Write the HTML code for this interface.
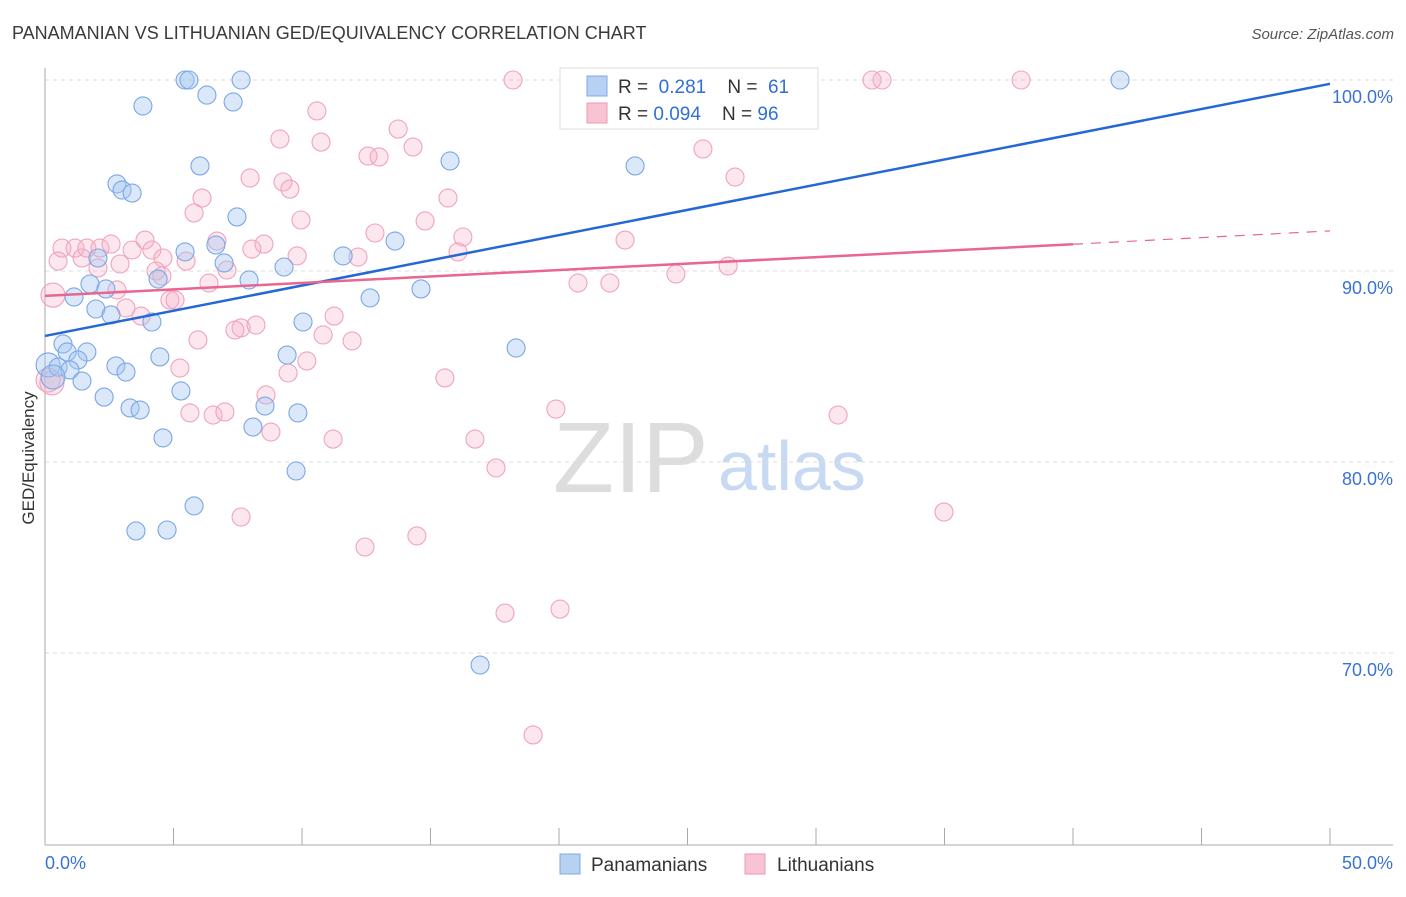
<!DOCTYPE html>
<html><head><meta charset="utf-8"><style>
body{margin:0;background:#fff;font-family:"Liberation Sans",sans-serif}
svg text{font-family:"Liberation Sans",sans-serif}
</style></head><body>
<svg id="c" width="1406" height="892" viewBox="0 0 1406 892" xmlns="http://www.w3.org/2000/svg">
<text x="12" y="39" font-size="18" fill="#3a3a3a">PANAMANIAN VS LITHUANIAN GED/EQUIVALENCY CORRELATION CHART</text>
<text x="1394" y="39" font-size="15" fill="#555" text-anchor="end" font-style="italic">Source: ZipAtlas.com</text>
<text x="553" y="492" font-size="100" fill="#ddd" font-family="Liberation Serif">ZIP</text>
<text x="718" y="490" font-size="70" fill="#c8daf3">atlas</text>
<g id="grid"></g>
<g id="pts"></g>
<g id="lines"></g>
<text transform="translate(34,458) rotate(-90)" font-size="17" fill="#333" text-anchor="middle">GED/Equivalency</text>
<g>
<rect x="560" y="68" width="258" height="61" fill="#fff" stroke="#ddd"/>
<rect x="587" y="76" width="20" height="20" fill="#b8d1f3" stroke="#7ea8e4"/>
<rect x="587" y="103" width="20" height="20" fill="#f8c3d3" stroke="#ee9ab5"/>
<text x="618" y="93" font-size="19" fill="#333" xml:space="preserve">R =  <tspan fill="#2f6fd6">0.281</tspan>    N =  <tspan fill="#2f6fd6">61</tspan></text>
<text x="618" y="120" font-size="19" fill="#333" xml:space="preserve">R = <tspan fill="#2f6fd6">0.094</tspan>    N = <tspan fill="#2f6fd6">96</tspan></text>
</g>
<g>
<rect x="560" y="854" width="20" height="20" fill="#b8d1f3" stroke="#7ea8e4"/>
<text x="591" y="871" font-size="19" fill="#333">Panamanians</text>
<rect x="745" y="854" width="20" height="20" fill="#f8c3d3" stroke="#ee9ab5"/>
<text x="777" y="871" font-size="19" fill="#333">Lithuanians</text>
</g>
</svg>
<script>
const yTicks=[100,90,80,70];
const yTickLabels=["100.0%","90.0%","80.0%","70.0%"];
const xLabels=["0.0%","50.0%"];
const blueX=[5.45,5.60,7.63,41.83,6.30,7.32,3.81,6.03,15.76,22.96,2.80,3.00,3.39,7.47,5.45,6.65,13.62,11.60,2.06,6.97,9.30,4.40,7.94,1.75,2.37,1.13,12.65,14.63,1.98,2.57,4.16,10.04,0.70,1.63,0.86,1.28,2.76,4.47,9.42,0.12,0.51,0.97,3.15,0.31,1.44,5.29,2.30,3.31,3.70,8.56,9.84,18.33,4.59,8.09,9.77,5.80,3.54,4.75,16.93];
const blueY=[100,100,100,100,99.21,98.85,98.64,95.50,95.76,95.50,94.56,94.24,94.08,92.83,91.00,91.36,91.57,90.79,90.68,90.42,90.21,89.58,89.53,89.32,89.06,88.64,88.59,89.06,88.01,87.70,87.33,87.33,86.18,85.76,85.76,85.34,85.03,85.50,85.60,85.08,84.97,84.82,84.71,84.45,84.24,83.72,83.40,82.83,82.72,82.93,82.57,85.97,81.26,81.83,79.53,77.70,76.39,76.44,69.37];
const pinkX=[18.21,23.07,32.18,32.57,37.98,23.66,10.58,9.14,10.74,13.74,14.32,12.57,13.00,25.60,7.98,9.26,9.53,26.85,6.11,15.68,5.80,9.96,14.79,12.84,16.26,22.57,6.69,8.52,3.89,0.66,1.17,1.63,2.14,2.57,3.39,4.16,0.51,1.44,2.06,2.92,4.59,5.49,9.81,12.18,16.07,8.05,7.08,4.32,4.55,6.38,20.74,21.98,24.55,26.58,0.31,2.80,4.86,5.06,3.15,3.74,11.25,7.63,7.39,8.21,5.95,10.82,11.95,10.19,9.46,5.25,15.56,8.60,5.64,6.54,7.00,8.79,11.21,16.73,19.88,30.86,17.55,7.63,34.98,12.45,14.47,17.90,20.04,18.99,0.12,0.27];
const pinkY=[100,100,100,100,100,100,98.38,96.91,96.75,97.43,96.49,96.02,95.97,96.39,94.87,94.66,94.29,94.92,93.82,93.82,93.04,92.67,92.62,91.99,91.78,91.62,91.57,91.41,91.62,91.20,91.20,91.20,91.20,91.41,91.10,91.10,90.52,90.68,90.16,90.37,90.68,90.52,90.79,90.73,91.00,91.15,90.05,90.00,89.74,89.37,89.37,89.37,89.84,90.26,88.74,89.01,88.48,88.48,88.06,87.64,87.64,87.02,86.91,87.17,86.39,86.65,86.34,85.29,84.66,84.92,84.40,83.51,82.57,82.46,82.62,81.57,81.20,81.20,82.77,82.46,79.69,77.12,77.38,75.55,76.13,72.09,72.30,65.71,84.29,84.14];
const blueTrend=[[0,86.6],[50,99.8]];
const pinkTrend=[[0,88.7],[40,91.4],[50,92.1]];
const NS="http://www.w3.org/2000/svg";
const X=v=>45+v*25.7, Y=v=>80+(100-v)*19.1;
function mk(t,a,p){const e=document.createElementNS(NS,t);for(const k in a)e.setAttribute(k,a[k]);p.appendChild(e);return e;}
const g=document.getElementById('grid');
yTicks.forEach((t,i)=>{
 const l=mk('line',{x1:45,x2:1393,y1:Y(t),y2:Y(t),stroke:'#ddd','stroke-dasharray':'4,4'},g);
 
 
 const tx=mk('text',{x:1393,y:Y(t)+23,'font-size':18,fill:'#3a72d4','text-anchor':'end'},g);
 tx.textContent=yTickLabels[i];
 
 
});
const ax=mk('line',{x1:45,x2:45,y1:68,y2:845,stroke:'#aaa'},g);


const bx=mk('line',{x1:45,x2:1393,y1:845,y2:845,stroke:'#aaa'},g);


for(let k=0;k<=10;k++){
 const t=mk('line',{x1:X(k*5),x2:X(k*5),y1:828,y2:845,stroke:'#aaa'},g);
 
 
}
[[0,'start',45],[50,'end',1393]].forEach((d,i)=>{
 const t=mk('text',{x:d[2],y:869,'font-size':18,fill:'#3a72d4','text-anchor':d[1]},g);
 t.textContent=xLabels[i];
 
 
});
const p=document.getElementById('pts');
function dots(xs,ys,fill,stroke,name){xs.forEach((x,i)=>{
 const r=(x<0.4)?12:9;
 const c=mk('circle',{cx:X(x),cy:Y(ys[i]),r:r,fill:fill,stroke:stroke,'stroke-width':1.1},p);
 
 
});}
dots(pinkX,pinkY,'rgba(246,175,200,0.3)','#f0a3bd','lithuanian-point');
dots(blueX,blueY,'rgba(165,198,240,0.4)','#7aa7e6','panamanian-point');
const L=document.getElementById('lines');
const bl=mk('line',{x1:X(blueTrend[0][0]),y1:Y(blueTrend[0][1]),x2:X(blueTrend[1][0]),y2:Y(blueTrend[1][1]),stroke:'#2368d6','stroke-width':2.5},L);


const pl=mk('line',{x1:X(pinkTrend[0][0]),y1:Y(pinkTrend[0][1]),x2:X(pinkTrend[1][0]),y2:Y(pinkTrend[1][1]),stroke:'#e8668f','stroke-width':2.5},L);


const pd=mk('line',{x1:X(pinkTrend[1][0]),y1:Y(pinkTrend[1][1]),x2:X(pinkTrend[2][0]),y2:Y(pinkTrend[2][1]),stroke:'#e8668f','stroke-width':1.2,'stroke-dasharray':'10,8'},L);


</script>
</body></html>
